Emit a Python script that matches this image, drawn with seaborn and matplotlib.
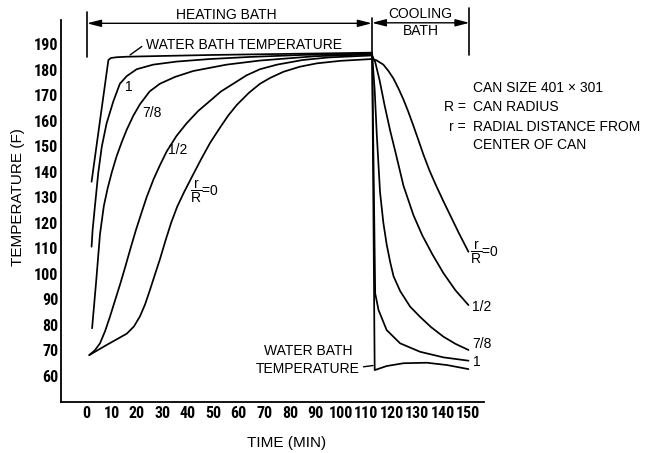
import matplotlib
matplotlib.use("Agg")
import matplotlib.pyplot as plt
from matplotlib import font_manager as fm
import seaborn as sns
import pandas as pd

# ---------------- data ----------------
x_ticks = list(range(0, 151, 10))
y_ticks = list(range(60, 191, 10))

water_t = [2.2, 5.5, 8.8, 9.8, 12.0, 16.0, 30.0, 50.0, 64.0, 85.0, 100.0, 112.3,
           113.3, 118.0, 124.6, 133.8, 141.6, 150.1]
water_T = [136.1, 160.0, 183.8, 184.6, 184.9, 185.1, 185.4, 185.8, 186.0, 186.3, 186.5, 186.7,
           62.2, 63.8, 64.9, 65.1, 64.2, 62.6]

r1_t = [2.2, 2.6, 3.5, 4.8, 6.2, 8.1, 10.7, 13.3, 16.0, 19.9, 26.4, 35.6, 48.7, 64.0, 85.0, 112.3,
        113.5, 114.8, 118.0, 123.3, 131.1, 140.3, 150.1]
r1_T = [110.6, 117.1, 126.3, 139.4, 149.8, 159.0, 167.5, 174.5, 177.5, 180.2, 182.0, 183.2, 184.2,
        185.0, 185.8, 186.3, 92.3, 85.8, 77.9, 72.7, 69.4, 67.2, 65.9]

r78_t = [2.4, 4.0, 5.5, 7.0, 8.5, 10.2, 12.0, 14.0, 16.0, 18.6, 21.2, 25.0, 29.0, 35.0, 42.1, 55.2, 68.3,
         90.0, 112.3,
         113.3, 114.1, 115.4, 116.7, 118.0, 119.4, 120.7, 123.3, 127.2, 131.1, 135.5, 140.3, 145.0, 150.1]
r78_T = [78.6, 97.0, 115.5, 126.5, 133.5, 140.0, 146.0, 151.5, 156.5, 162.0, 166.5, 171.5, 174.5, 177.2,
         179.5, 182.0, 183.6, 185.3, 186.0,
         172.0, 155.0, 132.0, 120.0, 111.5, 104.5, 99.0, 93.2, 87.1, 83.1, 79.0, 75.3, 72.5, 70.1]

r12_t = [1.3, 3.5, 5.5, 7.5, 9.4, 11.4, 13.5, 15.5, 17.5, 19.5, 21.5, 23.8, 26.5, 29.0, 31.7, 35.5, 39.5,
         44.0, 48.7, 53.0, 57.8, 63.0, 68.3, 75.0, 85.0, 95.0, 112.3,
         113.5, 115.2, 117.2, 119.4, 121.5, 124.6, 128.5, 132.0, 136.0, 140.3, 145.0, 150.1]
r12_T = [68.1, 70.0, 72.7, 77.5, 83.1, 89.5, 96.2, 103.0, 110.0, 116.8, 123.0, 130.0, 137.0, 142.5, 148.0,
         154.0, 159.0, 163.8, 167.8, 171.5, 174.5, 177.8, 180.2, 182.0, 183.8, 184.8, 185.6,
         183.0, 176.0, 166.0, 156.0, 147.5, 134.5, 123.0, 115.0, 107.5, 100.2, 93.5, 87.7]

r0_t = [1.3, 8.0, 13.0, 16.0, 18.8, 21.2, 23.2, 25.1, 27.0, 29.0, 31.3, 33.5, 35.8, 38.5, 42.1, 45.5, 48.7,
        52.6, 55.8, 59.2, 64.0, 68.3, 72.3, 77.5, 84.0, 90.6, 100.0, 112.3,
        114.0, 116.7, 118.7, 120.7, 122.7, 124.6, 126.5, 128.5, 130.5, 132.4, 134.8, 137.2, 140.0,
        142.9, 146.5, 150.1]
r0_T = [68.1, 72.0, 74.8, 76.5, 79.3, 83.3, 88.0, 93.6, 99.5, 105.6, 113.3, 120.2, 126.3, 132.0, 139.0,
        145.5, 151.3, 157.3, 162.0, 166.2, 171.0, 174.5, 176.8, 179.2, 181.2, 182.5, 183.5, 184.2,
        183.7, 182.0, 179.5, 176.5, 172.5, 168.3, 163.5, 158.0, 152.3, 146.8, 140.5, 135.0, 129.0,
        123.0, 115.6, 108.6]

curves = {"water": (water_t, water_T), "1": (r1_t, r1_T), "7/8": (r78_t, r78_T),
          "1/2": (r12_t, r12_T), "0": (r0_t, r0_T)}

# ---------------- style ----------------
sns.set_theme(style="white")
plt.rcParams["font.family"] = ["Liberation Sans", "DejaVu Sans"]
plt.rcParams["mathtext.fontset"] = "custom"
plt.rcParams["mathtext.rm"] = "Liberation Sans"
plt.rcParams["mathtext.it"] = "Liberation Sans"


def pick_condensed_bold():
    fonts = fm.fontManager.ttflist

    def is_bold(f):
        w = f.weight
        if isinstance(w, str):
            return "bold" in w.lower() or w.lower() in ("heavy", "black")
        return w >= 600

    prefs = ["liberation sans narrow", "roboto condensed", "dejavu sans condensed",
             "open sans condensed", "noto sans condensed", "arial narrow"]
    for p in prefs:
        for f in fonts:
            if f.name.lower() == p and is_bold(f):
                return fm.FontProperties(fname=f.fname), True
    for f in fonts:
        key = (f.name + " " + f.fname).lower()
        if ("condensed" in key or "narrow" in key) and is_bold(f) and "mono" not in key:
            return fm.FontProperties(fname=f.fname), True
    for f in fonts:
        key = (f.name + " " + f.fname).lower()
        if ("condensed" in key or "narrow" in key) and "mono" not in key:
            return fm.FontProperties(fname=f.fname, weight="bold"), True
    return fm.FontProperties(family="Liberation Sans", weight="bold"), False


tick_fp, is_cond = pick_condensed_bold()
tick_fp.set_size(11.5 if is_cond else 9.0)

fig = plt.figure(figsize=(6.51, 4.53), dpi=100)
ax = fig.add_axes([61 / 651, 1 - 402 / 453, (484 - 61) / 651, (402 - 20) / 453])

LW = 1.25
for name, (t, T) in curves.items():
    df = pd.DataFrame({"t": t, "T": T})
    sns.lineplot(data=df, x="t", y="T", sort=False, estimator=None, color="black",
                 lw=LW, ax=ax, legend=False)

ax.set_xlim(-9.8, 156.2)
ax.set_ylim(49.7, 199.5)
ax.set_xticks(x_ticks)
ax.set_yticks(y_ticks)
ax.set_xticklabels([str(v) for v in x_ticks])
ax.set_yticklabels([str(v) for v in y_ticks])
sns.despine(ax=ax)
for s in ["left", "bottom"]:
    ax.spines[s].set_color("black")
    ax.spines[s].set_linewidth(1.3)
ax.tick_params(axis="both", direction="in", length=5, width=1.2, color="black")
ax.tick_params(axis="x", pad=3.0)
ax.tick_params(axis="y", pad=2)
for lab in ax.get_xticklabels() + ax.get_yticklabels():
    lab.set_fontproperties(tick_fp)
    lab.set_color("black")

ax.set_xlabel("")
ax.set_ylabel("")
fig.text(18 / 651, 1 - 197 / 453, "TEMPERATURE (F)", rotation=90, ha="center", va="center",
         fontsize=11, color="black")
fig.text(286.7 / 651, 1 - 442.5 / 453, "TIME (MIN)", ha="center", va="center",
         fontsize=11, color="black")

FS = 10
kw = dict(color="black", fontsize=FS)
frac = r"$\dfrac{\mathrm{r}}{\mathrm{R}}$=0"
# curve labels (left)
ax.text(17.0, 173.4, "1", ha="center", va="center", **kw)
ax.text(25.8, 162.9, "7/8", ha="center", va="center", **kw)
ax.text(35.9, 148.5, "1/2", ha="center", va="center", **kw)
ax.text(40.8, 132.4, frac, ha="left", va="center", **kw)
# curve labels (right)
ax.text(150.8, 108.3, frac, ha="left", va="center", clip_on=False, **kw)
ax.text(151.4, 87.1, "1/2", ha="left", va="center", clip_on=False, **kw)
ax.text(151.4, 72.4, "7/8", ha="left", va="center", clip_on=False, **kw)
ax.text(152.0, 65.5, "1", ha="left", va="center", clip_on=False, **kw)

# water bath labels
ax.text(23.6, 189.7, "WATER BATH TEMPERATURE", ha="left", va="center", **kw)
ax.plot([17.3, 21.9], [185.8, 189.1], color="black", lw=1.0)
ax.text(87.2, 66.2, "WATER BATH\nTEMPERATURE", ha="center", va="center", linespacing=1.35, **kw)
ax.plot([108.9, 112.6], [63.5, 64.0], color="black", lw=1.0)

# can info
ax.text(152.0, 172.7, "CAN SIZE 401 × 301", ha="left", va="center", clip_on=False, **kw)
ax.text(149.1, 165.4, "R =", ha="right", va="center", clip_on=False, **kw)
ax.text(152.0, 165.4, "CAN RADIUS", ha="left", va="center", clip_on=False, **kw)
ax.text(149.1, 157.5, "r =", ha="right", va="center", clip_on=False, **kw)
ax.text(152.0, 157.5, "RADIAL DISTANCE FROM", ha="left", va="center", clip_on=False, **kw)
ax.text(152.0, 150.5, "CENTER OF CAN", ha="left", va="center", clip_on=False, **kw)

# bath bracket lines
ax.plot([0.4, 0.4], [185.1, 202.8], color="black", lw=1.2, clip_on=False)
ax.plot([112.2, 112.2], [186.7, 200.2], color="black", lw=1.2, clip_on=False)
ax.plot([150.5, 150.5], [185.8, 204.1], color="black", lw=1.2, clip_on=False)
arr = dict(arrowstyle="<|-|>,head_length=0.7,head_width=0.18", color="black", lw=1.0,
           shrinkA=0, shrinkB=0)
ax.annotate("", xy=(0.4, 198.2), xytext=(112.2, 198.2), arrowprops=arr, annotation_clip=False)
ax.annotate("", xy=(112.2, 198.4), xytext=(150.5, 198.4), arrowprops=arr, annotation_clip=False)
ax.text(55.2, 201.6, "HEATING BATH", ha="center", va="center", clip_on=False, **kw)
ax.text(131.3, 198.5, "COOLING\nBATH", ha="center", va="center", linespacing=1.35,
        clip_on=False, **kw)

fig.savefig("out.png", dpi=100, facecolor="white")
